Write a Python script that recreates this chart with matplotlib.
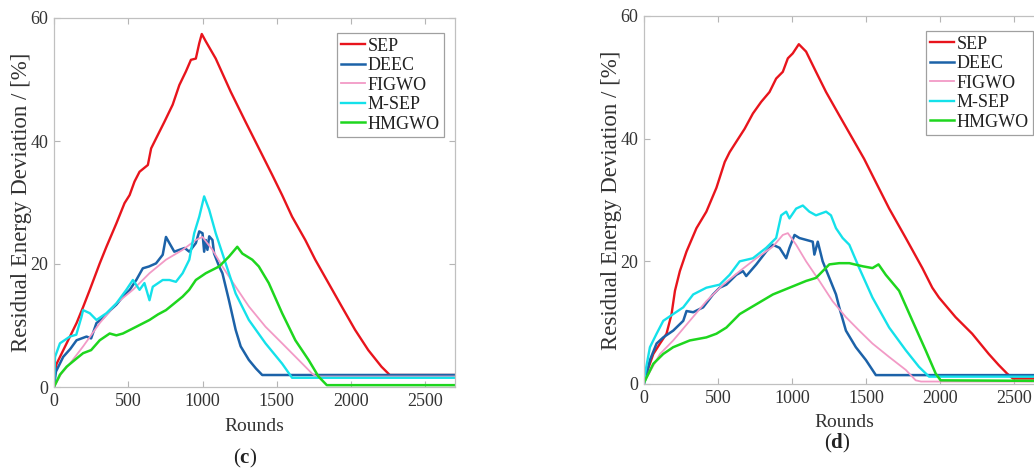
from matplotlib import pyplot as plt

# ---- data (rounds, deviation in %) ----
labels = ["SEP", "DEEC", "FIGWO", "M-SEP", "HMGWO"]
colors = ["#e8141c", "#1c62a8", "#f29ac6", "#14e1ea", "#1ed61e"]
widths = [1.7, 1.8, 1.3, 1.7, 1.8]

# panel (c)
sep_c_r = [0, 18, 85, 152, 196, 241, 308, 353, 420, 475, 509, 542, 576, 632, 654, 687, 743, 799, 844, 888, 922,
           955, 978, 995, 1022, 1089, 1190, 1290, 1390, 1469, 1536, 1603, 1692, 1759, 1848, 1937, 2027, 2116, 2205,
           2261, 2700]
sep_c_v = [2.0, 3.8, 7.1, 10.4, 13.0, 15.8, 20.1, 22.8, 26.6, 29.9, 31.2, 33.4, 35.0, 36.1, 38.8, 40.4, 43.1, 45.9,
           49.1, 51.3, 53.2, 53.4, 55.9, 57.4, 56.2, 53.4, 48.0, 43.1, 38.3, 34.5, 31.2, 27.7, 23.9, 20.7, 16.9, 13.1,
           9.3, 6.0, 3.3, 1.95, 1.95]

deec_c_r = [0, 13, 62, 110, 152, 219, 250, 286, 330, 380, 420, 464, 510, 554, 598, 640, 687, 732, 754, 777, 810,
            844, 880, 911, 955, 978, 1000, 1011, 1022, 1033, 1045, 1067, 1078, 1112, 1134, 1178, 1223, 1257, 1312,
            1360, 1402, 2700]
deec_c_v = [0, 2.5, 4.9, 6.2, 7.6, 8.2, 7.9, 10.4, 11.2, 12.5, 13.4, 14.7, 15.8, 17.4, 19.3, 19.6, 20.1, 21.5, 24.4,
            23.4, 22.0, 22.3, 22.6, 22.0, 23.4, 25.3, 25.0, 22.0, 23.9, 22.3, 24.5, 23.9, 21.7, 19.6, 18.5, 14.1, 9.3,
            6.6, 4.4, 3.0, 1.95, 1.95]

figwo_c_r = [0, 50, 107, 196, 308, 420, 531, 643, 754, 866, 955, 1000, 1067, 1134, 1223, 1312, 1424, 1536, 1647,
             1737, 1765, 2700]
figwo_c_v = [0, 2.2, 3.8, 6.6, 10.4, 13.6, 15.8, 18.5, 20.7, 22.3, 23.9, 24.4, 22.3, 19.6, 16.3, 13.1, 9.8, 7.1,
             4.4, 2.2, 1.7, 1.7]

msep_c_r = [0, 7, 40, 107, 150, 185, 196, 241, 286, 353, 420, 487, 531, 576, 609, 643, 665, 732, 777, 821, 866, 911,
            944, 978, 1011, 1045, 1089, 1156, 1223, 1312, 1424, 1536, 1603, 2700]
msep_c_v = [0, 4.9, 7.1, 8.2, 8.5, 11.4, 12.5, 12.0, 10.9, 12.0, 13.6, 15.8, 17.4, 15.8, 16.9, 14.1, 16.3, 17.4,
            17.4, 17.1, 18.5, 20.7, 25.0, 27.7, 31.0, 28.8, 25.0, 20.1, 15.2, 10.9, 7.1, 3.8, 1.5, 1.5]

hmgwo_c_r = [0, 40, 85, 150, 196, 250, 308, 375, 420, 464, 554, 643, 700, 754, 810, 866, 910, 955, 1022, 1112, 1178,
             1234, 1268, 1335, 1379, 1446, 1536, 1625, 1714, 1781, 1837, 2700]
hmgwo_c_v = [0, 2.0, 3.3, 4.6, 5.5, 6.0, 7.6, 8.7, 8.4, 8.7, 9.8, 10.9, 11.8, 12.5, 13.6, 14.7, 15.8, 17.4, 18.5,
             19.6, 21.2, 22.8, 21.7, 20.7, 19.6, 16.9, 12.0, 7.6, 4.4, 1.7, 0.3, 0.3]

# panel (d)
sep_d_r = [0, 63, 108, 152, 186, 209, 242, 287, 354, 421, 489, 545, 578, 623, 679, 735, 791, 847, 892, 937, 971,
           1004, 1045, 1094, 1161, 1229, 1318, 1408, 1486, 1565, 1655, 1767, 1879, 1946, 1991, 2103, 2215, 2327, 2394,
           2451, 2490, 2700]
sep_d_v = [0.6, 4.9, 6.6, 8.2, 11.4, 15.2, 18.4, 21.6, 25.4, 28.1, 32.0, 36.2, 37.8, 39.5, 41.6, 44.1, 46.0, 47.6,
           49.8, 50.9, 53.1, 53.9, 55.4, 54.2, 50.9, 47.6, 43.8, 40.0, 36.7, 32.9, 28.6, 23.8, 18.9, 15.7, 14.1, 10.9,
           8.2, 4.9, 3.1, 1.7, 0.9, 0.9]

deec_d_r = [0, 7, 40, 85, 130, 197, 265, 287, 332, 399, 466, 511, 556, 623, 668, 690, 758, 825, 870, 915, 960, 982,
            1016, 1049, 1094, 1139, 1150, 1173, 1206, 1251, 1296, 1318, 1363, 1430, 1498, 1565, 2700]
deec_d_v = [0, 0.6, 3.9, 6.6, 7.6, 8.7, 10.3, 11.9, 11.7, 12.5, 14.6, 15.7, 16.2, 17.8, 18.4, 17.6, 19.5, 21.6,
            22.7, 22.2, 20.5, 22.2, 24.3, 23.8, 23.5, 23.2, 21.1, 23.2, 20.0, 17.3, 14.6, 12.5, 8.7, 6.0, 3.9, 1.45,
            1.45]

figwo_d_r = [0, 7, 108, 197, 309, 421, 534, 646, 758, 870, 937, 971, 1027, 1094, 1184, 1273, 1363, 1453, 1542, 1655,
             1767, 1834, 1870, 2700]
figwo_d_v = [0, 0.6, 4.9, 7.1, 10.3, 13.5, 16.2, 18.4, 20.5, 22.4, 24.3, 24.6, 22.7, 20.0, 16.8, 13.5, 10.9, 8.7,
             6.6, 4.4, 2.3, 0.6, 0.4, 0.4]

msep_d_r = [0, 7, 40, 85, 130, 197, 265, 332, 421, 511, 578, 646, 735, 825, 892, 926, 960, 982, 1027, 1072, 1116,
            1161, 1229, 1262, 1296, 1341, 1386, 1453, 1542, 1655, 1767, 1856, 1924, 2700]
msep_d_v = [0, 1.7, 6.0, 8.2, 10.3, 11.4, 12.5, 14.6, 15.7, 16.2, 17.8, 20.0, 20.5, 22.2, 23.8, 27.5, 28.1, 27.0,
            28.6, 29.1, 28.1, 27.5, 28.1, 27.5, 25.4, 23.8, 22.7, 18.9, 14.1, 9.2, 5.5, 2.8, 1.2, 1.2]

hmgwo_d_r = [0, 63, 130, 197, 309, 421, 489, 556, 646, 758, 870, 982, 1094, 1161, 1251, 1318, 1386, 1475, 1542, 1583,
             1632, 1722, 1812, 1901, 1969, 2002, 2700]
hmgwo_d_v = [0.2, 3.3, 4.9, 6.0, 7.1, 7.6, 8.2, 9.2, 11.4, 13.0, 14.6, 15.7, 16.8, 17.3, 19.5, 19.7, 19.7, 19.2,
             18.9, 19.5, 17.8, 15.2, 10.3, 5.5, 1.7, 0.6, 0.5]

panel_c = [(sep_c_r, sep_c_v), (deec_c_r, deec_c_v), (figwo_c_r, figwo_c_v), (msep_c_r, msep_c_v), (hmgwo_c_r, hmgwo_c_v)]
panel_d = [(sep_d_r, sep_d_v), (deec_d_r, deec_d_v), (figwo_d_r, figwo_d_v), (msep_d_r, msep_d_v), (hmgwo_d_r, hmgwo_d_v)]

x_ticks = [0, 500, 1000, 1500, 2000, 2500]
y_ticks = [0, 20, 40, 60]

plt.rcParams["font.family"] = "Liberation Serif"
plt.rcParams["mathtext.fontset"] = "custom"
plt.rcParams["mathtext.rm"] = "Liberation Serif"
plt.rcParams["mathtext.bf"] = "Liberation Serif:bold"

W, H = 1034, 470
fig = plt.figure(figsize=(W / 100, H / 100), dpi=100, facecolor="white")

# axes boxes in pixels: left, bottom(from top), width, height
boxes = [(54, 387, 401, 369), (644, 384, 400, 368)]
captions = ["(" + r"$\mathbf{c}$" + ")", "(" + r"$\mathbf{d}$" + ")"]
cap_pos = [(245, 458), (837, 443)]
xlab_top = [418, 414]   # pixel y of the top of "Rounds"

for k, (panel, box) in enumerate(zip([panel_c, panel_d], boxes)):
    x0, yb, w, h = box
    ax = fig.add_axes([x0 / W, (H - yb) / H, w / W, h / H])
    for (r, v), lab, c, lw in zip(panel, labels, colors, widths):
        ax.plot(r, v, color=c, lw=lw, label=lab)

    ax.set_xlim(0, 2700)
    ax.set_ylim(0, 60)
    ax.set_xticks(x_ticks)
    ax.set_yticks(y_ticks)
    ax.tick_params(direction="in", top=True, right=True, length=4, width=0.8,
                   color="#b5b5b5", labelsize=13, labelcolor="#333333", pad=4)
    for s in ax.spines.values():
        s.set_color("#c0c0c0")
        s.set_linewidth(0.9)

    ax.set_xlabel("Rounds", fontsize=14, color="#333333")
    ax.set_ylabel("Residual Energy Deviation / [%]", fontsize=16.5, color="#333333")
    ax.xaxis.set_label_coords(0.5, (yb - xlab_top[k]) / h)
    ax.yaxis.set_label_coords(-22 / w, 0.5)

    leg = ax.legend(loc="upper right", bbox_to_anchor=(1 - 11 / w, 1 - 15 / h), borderaxespad=0,
                    fontsize=13, handlelength=1.3, handletextpad=0.15, labelspacing=0.14,
                    borderpad=0.25, fancybox=False, framealpha=1, edgecolor="#a0a0a0")
    leg.get_frame().set_linewidth(0.9)
    for t in leg.get_texts():
        t.set_color("#222222")

    cx, cy = cap_pos[k]
    fig.text(cx / W, 1 - cy / H, captions[k], fontsize=15, ha="center", va="center", color="#222222")

plt.savefig("out.png", dpi=100)
plt.close()
